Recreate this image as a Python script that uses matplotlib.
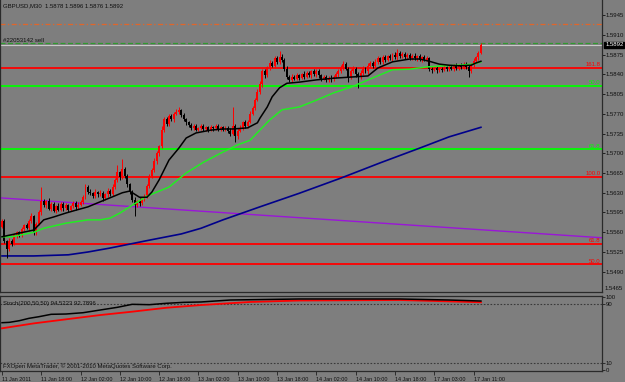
import matplotlib
matplotlib.use('Agg')
import matplotlib.pyplot as plt
import numpy as np

plt.rcParams['font.family'] = ['Liberation Sans', 'DejaVu Sans']

# ---------------- data ----------------
first_open = 1.5570
closes = [
    1.5580, 1.5545, 1.5530, 1.5545, 1.5540, 1.5555, 1.5560, 1.5555, 1.5565, 1.5572,
    1.5568, 1.5580, 1.5588, 1.5560, 1.5575, 1.5595, 1.5615, 1.5608, 1.5615, 1.5602,
    1.5610, 1.5598, 1.5606, 1.5600, 1.5610, 1.5603, 1.5608, 1.5600, 1.5606, 1.5612,
    1.5604, 1.5609, 1.5614, 1.5622, 1.5640, 1.5632, 1.5629, 1.5624, 1.5631, 1.5627,
    1.5630, 1.5621, 1.5627, 1.5633, 1.5628, 1.5640, 1.5652, 1.5666, 1.5658, 1.5672,
    1.5660, 1.5645, 1.5632, 1.5618, 1.5608, 1.5615, 1.5611, 1.5620, 1.5623, 1.5642,
    1.5660, 1.5670, 1.5686, 1.5700, 1.5712, 1.5742, 1.5760, 1.5752, 1.5766, 1.5760,
    1.5770, 1.5773, 1.5776, 1.5768, 1.5760, 1.5755, 1.5750, 1.5745, 1.5748, 1.5742,
    1.5745, 1.5748, 1.5743, 1.5746, 1.5742, 1.5747, 1.5744, 1.5748, 1.5743, 1.5746,
    1.5742, 1.5745, 1.5740, 1.5735, 1.5748, 1.5730, 1.5740, 1.5745, 1.5755, 1.5748,
    1.5756, 1.5770, 1.5780, 1.5795, 1.5808, 1.5822, 1.5845, 1.5838, 1.5852, 1.5860,
    1.5855, 1.5868, 1.5862, 1.5871, 1.5865, 1.5850, 1.5835, 1.5830, 1.5836, 1.5832,
    1.5838, 1.5834, 1.5840, 1.5836, 1.5842, 1.5838, 1.5845, 1.5840, 1.5846, 1.5838,
    1.5832, 1.5835, 1.5830, 1.5834, 1.5831, 1.5836, 1.5840, 1.5845, 1.5852, 1.5858,
    1.5850, 1.5835, 1.5845, 1.5850, 1.5840, 1.5835, 1.5842, 1.5850, 1.5845, 1.5855,
    1.5860, 1.5855, 1.5862, 1.5868, 1.5862, 1.5870, 1.5866, 1.5872, 1.5868, 1.5875,
    1.5870, 1.5878, 1.5872, 1.5876, 1.5870, 1.5874, 1.5869, 1.5873, 1.5868, 1.5872,
    1.5866, 1.5870, 1.5866, 1.5868, 1.5850, 1.5848, 1.5851, 1.5847, 1.5850, 1.5848,
    1.5852, 1.5849, 1.5853, 1.5850, 1.5855, 1.5851, 1.5856, 1.5852, 1.5858, 1.5853,
    1.5846, 1.5856, 1.5864, 1.5870, 1.5878, 1.5892,
]
# wick sizes above / below the body, in pips
wick_up = [
    4,3,2,5,3,4,2,3,5,3,4,3,6,3,4,5,25,4,3,5,
    3,4,2,5,3,3,4,2,3,4,3,5,3,4,6,3,4,3,5,2,
    4,3,3,5,3,6,4,14,3,18,4,3,2,3,4,3,5,3,4,3,
    4,3,5,4,3,6,4,5,3,4,3,5,6,3,4,3,2,4,3,3,
    2,3,4,2,3,3,2,4,3,2,3,4,3,5,34,3,4,5,3,4,
    3,5,4,3,5,6,4,5,3,6,4,5,4,11,5,3,4,3,5,3,
    4,3,3,5,3,4,3,5,3,4,3,3,4,3,5,3,4,5,4,6,
    4,3,5,4,3,4,5,4,3,5,4,3,5,4,3,4,5,3,4,3,
    4,7,3,4,3,3,4,3,4,3,4,3,4,5,3,2,3,4,3,3,
    4,3,3,4,3,5,3,4,3,4,3,4,5,3,4,4,
]
wick_dn = [
    3,4,15,3,4,3,5,3,4,3,3,5,3,4,4,3,4,3,5,3,
    4,3,4,3,3,5,3,4,3,3,4,3,2,4,3,5,3,4,3,4,
    3,5,3,4,3,3,4,3,5,3,4,5,4,4,20,3,4,3,4,3,
    3,4,3,5,4,3,5,4,3,3,4,3,3,4,3,5,4,3,4,3,
    3,4,3,3,4,3,4,3,3,4,3,3,4,4,3,10,4,3,4,3,
    4,3,3,4,3,3,5,4,3,4,3,4,3,4,3,5,4,3,4,3,
    3,4,3,4,3,3,4,3,4,5,4,3,4,3,4,3,3,4,3,4,
    3,8,4,3,4,20,3,4,3,4,3,4,3,3,4,3,4,3,3,4,
    3,4,3,4,3,3,4,3,3,4,3,4,3,3,4,5,3,4,3,4,
    3,4,3,3,4,3,4,3,3,4,10,3,4,3,4,2,
]

# moving averages read at sampled bars
ma_fast_idx = [0, 13, 17, 21, 26, 30, 35, 40, 44, 49, 52, 56, 59, 61, 64, 68, 72, 75, 79, 85,
               90, 94, 100, 104, 105, 108, 110, 113, 116, 121, 128, 135, 142, 149, 153, 159,
               166, 170, 174, 178, 182, 186, 191, 193, 195]
ma_fast = [1.5552, 1.5564, 1.5582, 1.5587, 1.5594, 1.5599, 1.5605, 1.5614, 1.5621, 1.5630,
           1.5633, 1.5622, 1.5622, 1.5631, 1.5653, 1.5688, 1.5709, 1.5727, 1.5736, 1.5741,
           1.5743, 1.5743, 1.5745, 1.5754, 1.5762, 1.5782, 1.5800, 1.5816, 1.5824, 1.5826,
           1.5830, 1.5833, 1.5835, 1.5837, 1.5851, 1.5862, 1.5867, 1.5867, 1.5863, 1.5858,
           1.5856, 1.5855, 1.5856, 1.5860, 1.5863]
ma_mid_idx = [0, 4, 13, 17, 26, 35, 40, 44, 48, 52, 59, 68, 75, 82, 89, 96, 101, 109, 114,
              121, 128, 135, 142, 148, 154, 159, 166, 173, 180, 186, 192, 195]
ma_mid = [1.5552, 1.5552, 1.5560, 1.5567, 1.5576, 1.5582, 1.5582, 1.5585, 1.5594, 1.5605,
          1.5624, 1.5640, 1.5665, 1.5684, 1.5700, 1.5715, 1.5723, 1.5759, 1.5777, 1.5782,
          1.5794, 1.5807, 1.5817, 1.5828, 1.5839, 1.5848, 1.5849, 1.5853, 1.5855, 1.5856,
          1.5858, 1.5862]
ma_slow_idx = [0, 13, 27, 35, 44, 52, 60, 73, 81, 90, 105, 121, 138, 154, 170, 182, 195]
ma_slow = [1.5518, 1.5518, 1.5520, 1.5525, 1.5532, 1.5539, 1.5546, 1.5557, 1.5567, 1.5582,
           1.5605, 1.5629, 1.5656, 1.5683, 1.5709, 1.5729, 1.5746]
trend_idx = [-1, 245]
trend_price = [1.5621, 1.5550]

fib_levels = [1.5851, 1.5819, 1.5707, 1.5658, 1.5540, 1.5503]
fib_labels = ["161.8", "50.0", "61.8", "100.0", "61.8", "50.0"]
fib_colors = ["#ff0000", "#00ff00", "#00ff00", "#ff0000", "#ff0000", "#ff0000"]

stop_level = 1.5929
order_level = 1.5895
bid_price = 1.5892

price_ticks = [1.5945, 1.5910, 1.5875, 1.5840, 1.5805, 1.5770, 1.5735, 1.5700,
               1.5665, 1.5630, 1.5595, 1.5560, 1.5525, 1.5490]
price_low_label = "1.5465"

stoch_main_idx = [0, 3, 7, 11, 15, 20, 26, 33, 40, 47, 53, 60, 67, 74, 81, 93, 121, 162, 182, 195]
stoch_main = [64.8, 65.3, 67.5, 70.8, 73.0, 76.3, 76.7, 78.5, 82.2, 85.9, 90.0, 89.5, 91.4,
              92.7, 93.2, 95.9, 97.3, 97.3, 95.9, 94.5]
stoch_sig_idx = [0, 13, 26, 40, 53, 67, 81, 101, 121, 162, 195]
stoch_sig = [57.1, 63.9, 69.4, 75.3, 79.9, 85.3, 89.0, 93.2, 95.2, 95.9, 92.8]
stoch_levels = [90, 10]
stoch_ticks = [100, 90, 10, 0]

date_labels = ["11 Jan 2011", "11 Jan 18:00", "12 Jan 02:00", "12 Jan 10:00", "12 Jan 18:00",
               "13 Jan 02:00", "13 Jan 10:00", "13 Jan 18:00", "14 Jan 02:00", "14 Jan 10:00",
               "14 Jan 18:00", "17 Jan 03:00", "17 Jan 11:00"]
bars_per_label = 16

# ---------------- figure ----------------
W, H = 625, 382
BG = '#7e7e7e'
FS = 4.3
FS_DATE = 3.9
TXT = '#101010'
fig = plt.figure(figsize=(W / 100, H / 100), dpi=100)
fig.patch.set_facecolor(BG)

def fy(py):
    return 1 - py / H

ax = fig.add_axes([0, fy(292), 602 / W, 292 / H])
ax.set_facecolor(BG)
ax.set_xlim(-0.81, 244.3)
ax.set_ylim(1.54541, 1.59716)

closes_a = np.array(closes)
n = len(closes_a)
xs = np.arange(n)
opens_a = np.concatenate([[first_open], closes_a[:-1]])
hi = np.maximum(opens_a, closes_a) + np.array(wick_up) * 1e-4
lo = np.minimum(opens_a, closes_a) - np.array(wick_dn) * 1e-4
cols = np.where(closes_a >= opens_a, '#ff0000', '#000000')

# horizontal levels
ax.axhline(stop_level, color='#e0662a', lw=0.9, dashes=(4, 2, 1, 2), zorder=1)
ax.axhline(order_level, color='#2f9a2f', lw=0.9, dashes=(4, 2), zorder=1)
ax.axhline(bid_price, color='#c9c9c9', lw=0.8, zorder=1)
for lev, lab, c in zip(fib_levels, fib_labels, fib_colors):
    ax.axhline(lev, color=c, lw=1.3, zorder=1)
    ax.text(0.997, lev + 0.00012, lab, transform=ax.get_yaxis_transform(), ha='right',
            va='bottom', color=c, fontsize=FS)

ax.plot(trend_idx, trend_price, color='#9a16d8', lw=1.0, zorder=2)
ax.plot(ma_slow_idx, ma_slow, color='#00008b', lw=1.2, zorder=2)

ax.vlines(xs, lo, hi, colors=cols, lw=0.7, zorder=3)
body = np.maximum(np.abs(closes_a - opens_a), 0.00005)
ax.bar(xs, body, bottom=np.minimum(opens_a, closes_a), width=0.8, color=cols,
       linewidth=0, zorder=3)

ax.plot(ma_mid_idx, ma_mid, color='#22ee22', lw=1.1, zorder=4)
ax.plot(ma_fast_idx, ma_fast, color='#000000', lw=1.1, zorder=4)

ax.yaxis.tick_right()
ax.set_yticks(price_ticks)
ax.set_yticklabels([f"{p:.4f}" for p in price_ticks])
ax.tick_params(axis='y', length=2, width=0.7, color='#202020', pad=0.8, labelsize=FS,
               labelcolor=TXT, direction='out')
ax.set_xticks([])
ax.spines['top'].set_visible(False)
for s in ['left', 'right', 'bottom']:
    ax.spines[s].set_color('#2a2a2a')
    ax.spines[s].set_linewidth(0.9)

fig.text(605 / W, fy(289), price_low_label, fontsize=FS, color=TXT, va='center', ha='left')
ax.annotate(f"{bid_price:.4f}", xy=(1.0, bid_price), xycoords=('axes fraction', 'data'),
            xytext=(2.2, 0), textcoords='offset points', ha='left', va='center',
            fontsize=FS, color='white',
            bbox=dict(boxstyle='square,pad=0.12', facecolor='black', edgecolor='black'))

ax.text(3 / 602, 1 - 6 / 292, "GBPUSD,M30  1.5878 1.5896 1.5876 1.5892",
        transform=ax.transAxes, fontsize=FS, color=TXT, va='center', ha='left')
ax.text(3 / 602, 1 - 41 / 292, "#22053142 sell", transform=ax.transAxes, fontsize=FS,
        color=TXT, va='center', ha='left')

# ---------------- stochastic pane ----------------
sx = fig.add_axes([0, fy(371), 602 / W, 75 / H])
sx.set_facecolor(BG)
sx.set_xlim(-0.81, 244.3)
sx.set_ylim(-1.4, 101.4)
for lev in stoch_levels:
    sx.axhline(lev, color='#3a3a3a', lw=0.8, dashes=(1.5, 1.5))
sx.plot(stoch_sig_idx, stoch_sig, color='#ff0000', lw=1.3)
sx.plot(stoch_main_idx, stoch_main, color='#000000', lw=1.1)
sx.yaxis.tick_right()
sx.set_yticks(stoch_ticks)
sx.set_yticklabels([str(t) for t in stoch_ticks])
sx.tick_params(axis='y', length=2, width=0.6, color='#202020', pad=0.8, labelsize=FS,
               labelcolor=TXT)
tick_pos = [k * bars_per_label for k in range(len(date_labels))]
sx.set_xticks(tick_pos)
sx.set_xticklabels(date_labels, ha='left')
sx.tick_params(axis='x', length=3, width=0.6, color='#202020', pad=1, labelsize=FS_DATE,
               labelcolor=TXT)
for s in ['left', 'right', 'bottom', 'top']:
    sx.spines[s].set_color('#2a2a2a')
    sx.spines[s].set_linewidth(0.9)
sx.text(3 / 602, 1 - 7 / 75, "Stoch(200,50,50) 94.5223 92.7896", transform=sx.transAxes,
        fontsize=FS, color=TXT, va='center', ha='left')
sx.text(3 / 602, 1 - 70 / 75, "FXOpen MetaTrader, \u00a9 2001-2010 MetaQuotes Software Corp.",
        transform=sx.transAxes, fontsize=FS, color=TXT, va='center', ha='left')

fig.savefig('out.png', dpi=100, facecolor=BG)
